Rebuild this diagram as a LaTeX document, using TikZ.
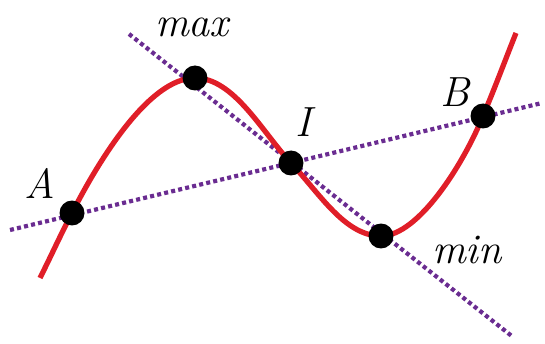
\documentclass[tikz,border=0pt]{standalone}
\begin{document}
\begin{tikzpicture}[x=0.02cm,y=-0.02cm,
  curvecol/.style={draw={rgb,255:red,224;green,30;blue,40},line width=3pt},
  dotline/.style={draw={rgb,255:red,106;green,44;blue,145},line width=2.4pt,dash pattern=on 2.3pt off 1.8pt},
  pt/.style={circle,fill=black,inner sep=0pt,minimum size=0.5cm},
  lab/.style={font=\fontsize{24}{24}\selectfont\itshape,inner sep=0pt}]
\useasboundingbox (0,0) rectangle (545,344);
% dotted lines
\coordinate (l1s) at (10,230);
\coordinate (l1e) at (542,103);
\coordinate (l2s) at (129,34);
\coordinate (l2e) at (513,337);
\draw[dotline] (l1s) -- (l1e);
\draw[dotline] (l2s) -- (l2e);
% curve points
\coordinate (cs) at (40,278);
\coordinate (cA) at (72,213);
\coordinate (cmax) at (195,78);
\coordinate (cI) at (291,163);
\coordinate (cmin) at (381,236);
\coordinate (cB) at (483,116);
\coordinate (ce) at (516,33);
\draw[curvecol,line cap=butt] (cs) .. controls (52,254) and (60,236) .. (cA)
  .. controls (97,164) and (148,78) .. (cmax)
  .. controls (234,78) and (262,132) .. (cI)
  .. controls (320,194) and (345,236) .. (cmin)
  .. controls (418,236) and (463,165) .. (cB)
  .. controls (496,85) and (506,58) .. (ce);
% dots
\node[pt] (A) at (cA) {};
\node[pt] (max) at (cmax) {};
\node[pt] (I) at (cI) {};
\node[pt] (min) at (cmin) {};
\node[pt] (B) at (cB) {};
% labels
\node[lab] (lA) at (40,183) {A};
\node[lab] (lmax) at (192,27) {max};
\node[lab] (lI) at (303,122) {I};
\node[lab] (lmin) at (467,250) {min};
\node[lab] (lB) at (455,92) {B};
\end{tikzpicture}
\end{document}
